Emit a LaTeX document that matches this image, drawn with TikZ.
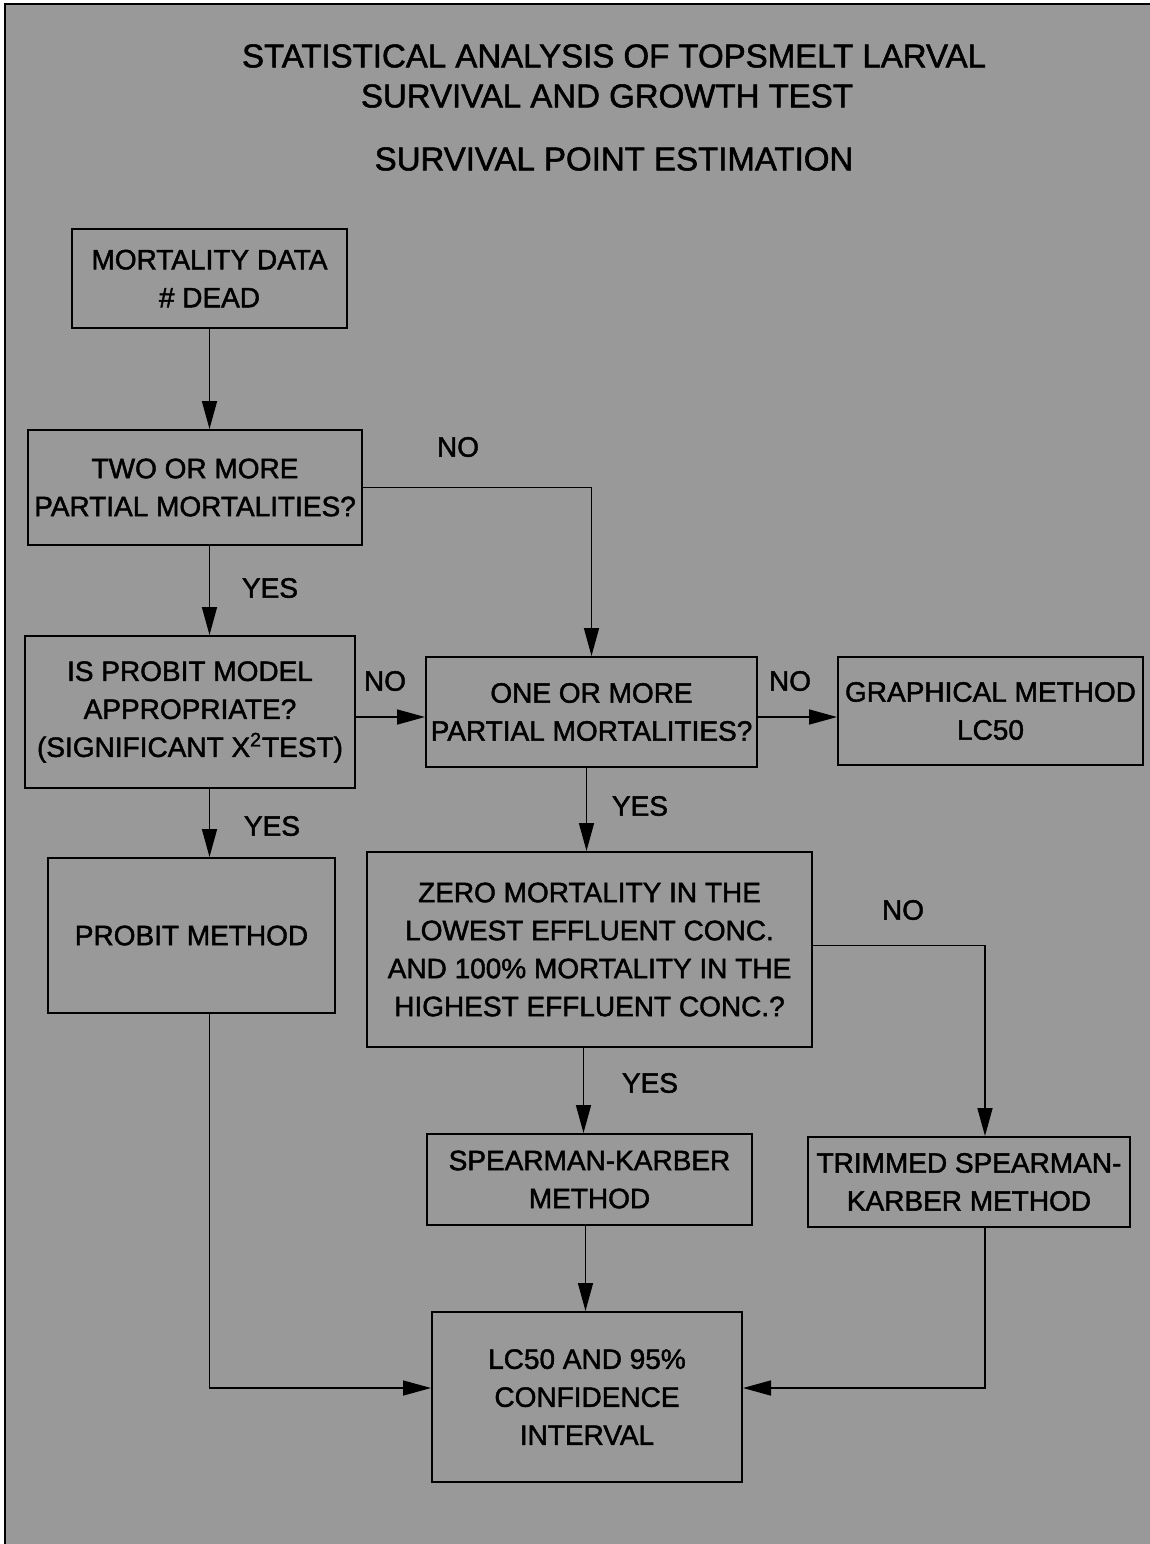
\documentclass[tikz,border=0pt]{standalone}
\usepackage{fontspec}
\setmainfont{Liberation Sans}[FakeBold=1]
\newfontfamily\heavy{Liberation Sans}[FakeBold=1.6]
\usetikzlibrary{arrows.meta,calc}
\begin{document}
\begin{tikzpicture}[x=0.5pt,y=-0.5pt,
  box/.style={draw=black,line width=1pt,align=center,inner sep=0pt,
    font=\heavy\fontsize{14}{19}\selectfont},
  lbl/.style={font=\heavy\fontsize{14}{19}\selectfont,inner sep=0pt},
  ttl/.style={font=\heavy\fontsize{16.5}{21}\selectfont,inner sep=0pt,align=center},
  arr/.style={line width=0.8pt,-{Triangle[length=14pt,width=7.5pt]}}]
\fill[white] (0,0) rectangle (1150,1544);
\fill[black!40] (5,4) rectangle (1150,1544);
\useasboundingbox (0,0) rectangle (1150,1544);
\draw[line width=1.2pt] (5,1544) -- (5,4) -- (1150,4);
% title
\node[ttl] (t1) at (614,56) {STATISTICAL ANALYSIS OF TOPSMELT LARVAL};
\node[ttl] (t2) at (607,96) {SURVIVAL AND GROWTH TEST};
\node[ttl] (t3) at (614,159) {SURVIVAL POINT ESTIMATION};
% boxes
\node[box,minimum width=137.5pt,minimum height=49.5pt] (m1) at (209.5,278.5) {MORTALITY DATA\\\# DEAD};
\node[box,minimum width=167pt,minimum height=57.5pt] (two) at (195,487.5) {TWO OR MORE\\PARTIAL MORTALITIES?};
\node[box,minimum width=165pt,minimum height=76pt] (prq) at (190,712) {IS PROBIT MODEL\\APPROPRIATE?\\(SIGNIFICANT X\textsuperscript{2}TEST)};
\node[box,minimum width=165.5pt,minimum height=55pt] (one) at (591.5,712) {ONE OR MORE\\PARTIAL MORTALITIES?};
\node[box,minimum width=152.5pt,minimum height=54pt] (gr) at (990.5,711) {GRAPHICAL METHOD\\LC50};
\node[box,minimum width=143.5pt,minimum height=77.5pt] (pm) at (191.5,935.5) {PROBIT METHOD};
\node[box,minimum width=222.5pt,minimum height=97.5pt] (zero) at (589.5,949.5) {ZERO MORTALITY IN THE\\LOWEST EFFLUENT CONC.\\AND 100\% MORTALITY IN THE\\HIGHEST EFFLUENT CONC.?};
\node[box,minimum width=162.5pt,minimum height=45.5pt] (sk) at (589.5,1179.5) {SPEARMAN-KARBER\\METHOD};
\node[box,minimum width=161pt,minimum height=45pt] (tsk) at (969,1182) {TRIMMED SPEARMAN-\\KARBER METHOD};
\node[box,minimum width=155pt,minimum height=85pt] (lc) at (587,1397) {LC50 AND 95\%\\CONFIDENCE\\INTERVAL};
% labels
\node[lbl] (no1) at (458,447) {NO};
\node[lbl] (yes1) at (270,588) {YES};
\node[lbl] (no2) at (385,681) {NO};
\node[lbl] (no3) at (790,681) {NO};
\node[lbl] (yes2) at (640,806) {YES};
\node[lbl] (yes3) at (272,826) {YES};
\node[lbl] (no4) at (903,910) {NO};
\node[lbl] (yes4) at (650,1083) {YES};
% connectors
\draw[arr] (m1.south) -- (m1.south |- two.north);
\draw[arr] (m1.south |- two.south) -- (m1.south |- prq.north);
\draw[arr] (two.east) -| (one.north);
\draw[arr] ([yshift=-2.5pt]prq.east) -- ([yshift=-2.5pt]one.west);
\draw[arr] ([yshift=-2.5pt]one.east) -- ([yshift=-2.5pt]one.east -| gr.west);
\draw[arr] ([xshift=-2.5pt]one.south) -- ([xshift=-2.5pt]one.south |- zero.north);
\draw[arr] (m1.south |- prq.south) -- (m1.south |- pm.north);
\draw[arr] ([xshift=-3pt]zero.south) -- ([xshift=-3pt]zero.south |- sk.north);
\draw[arr] ([yshift=2pt]zero.east) -| ([xshift=8pt]tsk.north);
\draw[arr] ([xshift=-2pt]sk.south) -- ([xshift=-2pt]sk.south |- lc.north);
\draw[arr] (m1.south |- pm.south) |- ([yshift=4.5pt]lc.west);
\draw[arr] ([xshift=8pt]tsk.south) |- ([yshift=4.5pt]lc.east);
\end{tikzpicture}
\end{document}
